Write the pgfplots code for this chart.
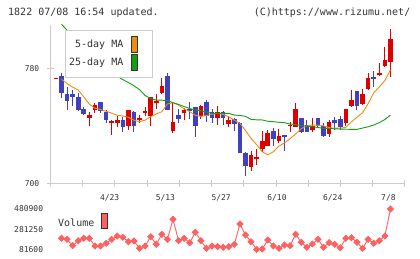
\documentclass[border=0pt]{standalone}
\usepackage{fontspec}
\setmainfont{DejaVu Sans Mono}
\usepackage{pgfplots}
\pgfplotsset{compat=1.18}
\usepackage{pgfplotstable}
\definecolor{axgray}{HTML}{CCCCCC}
\definecolor{txt}{HTML}{333333}
\definecolor{cred}{HTML}{DD0000}
\definecolor{cblue}{HTML}{4040C0}
\definecolor{maorange}{HTML}{F08C10}
\definecolor{magreen}{HTML}{10A010}
\definecolor{volred}{HTML}{FF6060}

\pgfplotstableread{
i o h l c
0 772.6 773.5 772.5 773.4
6 745.5 750 740 748
7 751.5 756 749 754.5
10 742.6 744 734 743.4
11 742.5 747 739.5 744.5
13 740 751.5 737.5 751
15 744.6 747.5 742 745.4
16 749.6 753 747 750.4
17 747 760 740 760
18 756.6 762 752 757.4
19 763 773.5 762.5 768
21 736.5 757 735.5 743
23 749 752.5 744.5 751
26 747 754.5 745 754
29 745.5 754 740.5 749.5
31 741.5 747 739.5 744.5
35 711.5 722.5 709 720
36 717.6 724 713 718.4
37 724 736.5 722 730
38 726.5 737.5 726 735
40 729.5 738 728.5 733
42 740.1 743 736 740.9
43 739.5 756 739.5 752
46 737.5 746 736 740
49 734.5 744.5 732.5 743
52 742.5 752 740 752
53 754 765 753 758
55 755.5 765.5 755 762
56 766 777 765 773
58 775.5 784 775 777
59 781.5 794.5 781 785.5
60 784.5 807.5 774 800.5
}\upc

\pgfplotstableread{
i o h l c
1 775 776.5 759.7 763
2 762 767 751.5 757.5
3 762 765 754 760
4 760.5 763 750.5 751
5 752 753 748 748.5
8 756.5 757 749 750.5
9 750 751 742.5 744
12 744.5 746.5 736 739.5
14 750 750.5 736 740
20 775 777 751 751
22 748 752 742 745
24 752 757 745 750.5
25 753 753.5 732.5 740
27 756.5 758 743 747
28 749.5 752 742 745.5
30 749.5 750.5 740.5 745.5
32 745 745.5 737 741.5
33 742 743 721.5 721.5
34 721.5 722 705.5 712.5
39 736.5 738.5 726.5 731
41 734 734 722.5 733
44 745.5 745.5 735.5 736
45 741 744.5 736 736
47 745.5 746 739.5 740
48 740 742 732.5 733
50 744.5 746.5 737.5 742
51 745 747 737.5 739.5
54 764.5 764.5 751 754
57 774 778 767 773
}\downc

\pgfplotstableread{
i v
1 772.4
2 769.5
3 767
4 765
5 760.3
6 755.2
7 752.4
8 751.5
9 750.3
10 749
11 747.6
12 747
13 746.2
14 744.1
15 743.1
16 744.2
17 746.5
18 748.5
19 750
20 755.4
21 756.2
22 754.5
23 752
24 750.1
25 747.5
26 746.8
27 747.3
28 748.3
29 748.9
30 748.1
31 746.5
32 744.2
33 742
34 737
35 731.6
36 727.2
37 722.3
38 720.2
39 722.3
40 726.2
41 728.5
42 731.3
43 734.6
44 738.3
45 740.2
46 740.8
47 740.7
48 740.2
49 739
50 738.6
51 738.7
52 739.1
53 743
54 746.2
55 749.3
56 755.6
57 763
58 767.2
59 771.6
60 779
}\mafive

\pgfplotstableread{
i v
1 810.5
2 806.5
3 803
4 799.4
5 795.8
6 792.3
7 788.7
8 785.2
9 781.6
10 778
11 774.6
12 772.2
13 770.2
14 768
15 765.3
16 761.2
17 759.1
18 758
19 758
20 757.6
21 756.3
22 755
23 753.6
24 752.2
25 751.2
26 750.7
27 749.8
28 748.9
29 748.9
30 748.9
31 748.9
32 747.7
33 747.4
34 746.8
35 744.7
36 744.4
37 744.3
38 743.4
39 743.1
40 742.7
41 742.4
42 741.5
43 741.1
44 740.5
45 739.9
46 739.6
47 739.1
48 738.5
49 738.4
50 738.2
51 738
52 737.9
53 737.8
54 737.8
55 738.7
56 739.6
57 740.8
58 742.5
59 744.6
60 747.7
}\matwentyfive

\pgfplotstableread{
i v
1 190600
2 180700
3 117300
4 166800
5 190600
6 190600
7 114300
8 114300
9 141000
10 180700
11 213400
12 200500
13 156900
14 163800
15 91500
16 114300
17 206400
18 131100
19 230200
20 180700
21 378800
22 166800
23 190600
24 147000
25 250000
26 166800
27 91500
28 114300
29 107400
30 101400
31 107400
32 131100
33 332300
34 223300
35 156900
36 81600
37 84600
38 173700
39 114300
40 91500
41 124200
42 117300
43 230200
44 151000
45 101400
46 134100
47 180700
48 101400
49 147000
50 131100
51 97500
52 190600
53 196500
54 151000
55 91500
56 180700
57 141000
58 166800
59 213400
60 480900
}\vol

\pgfplotsset{
  candle/.style 2 args={draw=none, mark=none, forget plot,
    error bars/.cd, y dir=both, y explicit, error mark=none,
    error bar style={draw=#1, line width=#2, solid}},
}

\begin{document}
\begin{tikzpicture}[x=1bp,y=1bp]
\useasboundingbox (0,0) rectangle (420,259);

\node[anchor=west, inner sep=0pt, text=txt, font=\fontsize{10bp}{10bp}\selectfont] at (8,246.7) {1822 07/08 16:54 updated.};
\node[anchor=east, inner sep=0pt, text=txt, font=\fontsize{10bp}{10bp}\selectfont] at (410.5,246.7) {(C)https://www.rizumu.net/};

\begin{axis}[
  at={(50.5bp,75bp)}, anchor=south west,
  scale only axis, width=354.5bp, height=159bp,
  xmin=-0.97, xmax=62.61, ymin=700, ymax=810,
  axis x line*=bottom, axis y line*=left,
  axis line style={draw=axgray, line width=1bp, -},
  tick style={draw=axgray, line width=1bp},
  tick align=center, major tick length=7bp,
  xtick={-0.97,4.81,10.59,16.37,22.15,27.93,33.71,39.49,45.27,51.05,56.83,62.61},
  xticklabels={},
  extra x ticks={10,20,30,40,50,60},
  extra x tick labels={4/23,5/13,5/27,6/10,6/24,7/8},
  extra x tick style={major tick length=0pt, xticklabel style={anchor=center, inner sep=0pt, yshift=-14.3bp, xshift=-2bp}},
  ytick={700,780}, yticklabels={700,780},
  yticklabel style={anchor=east, inner sep=0pt, xshift=-7.5bp},
  tick label style={font=\fontsize{8bp}{8bp}\selectfont, text=txt},
  clip=true,
]
% wicks
\addplot[candle={cred}{1bp}]
  table[x=i, y expr={(\thisrow{h}+\thisrow{l})/2}, y error expr={(\thisrow{h}-\thisrow{l})/2}] {\upc};
\addplot[candle={cblue}{1bp}]
  table[x=i, y expr={(\thisrow{h}+\thisrow{l})/2}, y error expr={(\thisrow{h}-\thisrow{l})/2}] {\downc};
% bodies
\addplot[candle={cred}{4.6bp}]
  table[x=i, y expr={(\thisrow{o}+\thisrow{c})/2}, y error expr={abs(\thisrow{c}-\thisrow{o})/2}] {\upc};
\addplot[candle={cblue}{4.6bp}]
  table[x=i, y expr={(\thisrow{o}+\thisrow{c})/2}, y error expr={abs(\thisrow{c}-\thisrow{o})/2}] {\downc};
% moving averages
\addplot[maorange, line width=0.9bp, mark=none] table[x=i, y=v] {\mafive};
\addplot[magreen, line width=0.9bp, mark=none] table[x=i, y=v] {\matwentyfive};
\end{axis}

% legend of MAs
\draw[axgray, line width=0.8bp, fill=white] (65.7,229) rectangle (152.3,181.7);
\node[anchor=east, inner sep=0pt, text=txt, font=\fontsize{10bp}{10bp}\selectfont] at (123.5,214) {5-day MA};
\node[anchor=east, inner sep=0pt, text=txt, font=\fontsize{10bp}{10bp}\selectfont] at (123.5,196.3) {25-day MA};
\draw[txt, line width=0.8bp, fill=maorange] (131.2,222.3) rectangle (137.5,206.3);
\draw[txt, line width=0.8bp, fill=magreen] (131.2,204.7) rectangle (137.5,189);

\begin{axis}[
  at={(50.5bp,9.7bp)}, anchor=south west,
  scale only axis, width=354.5bp, height=40.3bp,
  xmin=-0.97, xmax=62.61, ymin=81600, ymax=480900,
  axis line style={draw=none},
  tick style={draw=none}, major tick length=0pt,
  xtick=\empty,
  ytick={81600,281250,480900}, yticklabels={81600,281250,480900},
  scaled y ticks=false,
  yticklabel style={anchor=east, inner sep=0pt, xshift=-7.2bp},
  tick label style={font=\fontsize{8bp}{8bp}\selectfont, text=txt},
  clip=false,
]
\addplot[volred, line width=0.9bp, mark=square*, mark size=2.1bp, mark options={rotate=45, fill=volred, draw=volred}] table[x=i, y=v] {\vol};
\end{axis}

\node[anchor=west, inner sep=0pt, text=txt, font=\fontsize{10bp}{10bp}\selectfont] at (58,36.7) {Volume};
\draw[txt, line width=0.8bp, fill=volred] (101.7,45.7) rectangle (107.3,30.7);
\end{tikzpicture}
\end{document}
